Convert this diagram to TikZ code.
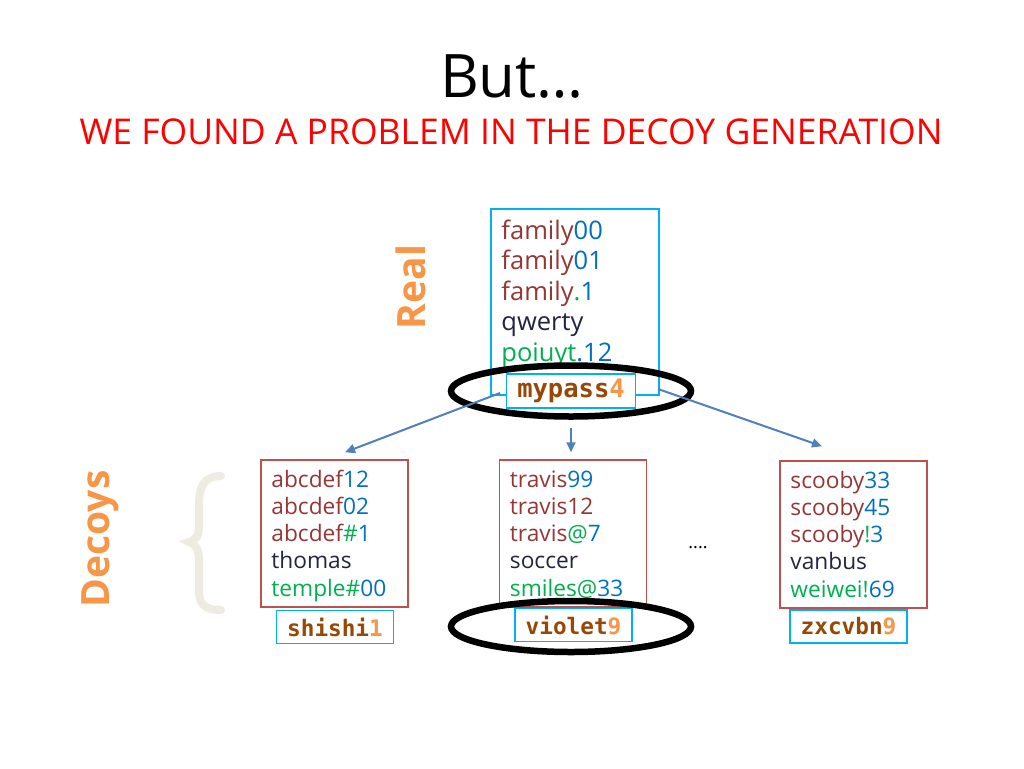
\documentclass[tikz,border=0pt]{standalone}
\usepackage{fontspec}
\setmainfont{Open Sans}
\setmonofont{DejaVu Sans Mono}
\usetikzlibrary{shapes.geometric,arrows.meta}
\definecolor{pwred}{RGB}{149,55,53}
\definecolor{pwblue}{RGB}{0,112,192}
\definecolor{pwgreen}{RGB}{0,176,80}
\definecolor{pwnavy}{RGB}{36,36,70}
\definecolor{titlered}{RGB}{255,0,0}
\definecolor{boxcyan}{RGB}{0,176,240}
\definecolor{boxred}{RGB}{192,80,77}
\definecolor{arrowblue}{RGB}{79,129,189}
\definecolor{markorange}{RGB}{247,150,70}
\definecolor{monobrown}{RGB}{151,72,7}
\definecolor{bracecol}{RGB}{238,236,225}
\newcommand{\pwR}[1]{\textcolor{pwred}{#1}}
\newcommand{\pwB}[1]{\textcolor{pwblue}{#1}}
\newcommand{\pwG}[1]{\textcolor{pwgreen}{#1}}
\newcommand{\pwN}[1]{\textcolor{pwnavy}{#1}}
\newcommand{\pwPick}[2]{\textcolor{monobrown}{#1}\textcolor{markorange}{#2}}
\begin{document}
\begin{tikzpicture}[
  x=1pt,y=-1pt,
  pwline/.style={anchor=base west,inner sep=0pt,font=\fontsize{25.5}{25.5}\selectfont},
  dcline/.style={pwline,font=\fontsize{22.7}{22.7}\selectfont},
  realbox/.style={draw=boxcyan,line width=1.5pt,minimum width=168pt,minimum height=186pt,inner sep=0pt},
  decoybox/.style={draw=boxred,line width=1.5pt,minimum width=147pt,minimum height=147pt,inner sep=0pt},
  pickbox/.style={draw=boxcyan,fill=white,line width=1.5pt,minimum width=117pt,minimum height=33pt,
    inner sep=0pt,font=\fontsize{22.7}{22.7}\ttfamily\bfseries},
  ringmark/.style={draw,ellipse,line width=6.5pt,minimum width=240pt,minimum height=51pt},
  pick/.style={-{Triangle[length=10pt,width=9pt]},draw=arrowblue,line width=2pt},
  sidelabel/.style={rotate=90,text=markorange,font=\fontsize{39}{39}\selectfont\bfseries}]
  \useasboundingbox[fill=white] (0,0) rectangle (1024,768);

  % heading
  \node[font=\fontsize{60}{60}\selectfont] (title) at (512,77) {But…};
  \node[text=titlered,font=\fontsize{35.5}{35.5}\selectfont] (subtitle) at (511,132)
    {WE FOUND A PROBLEM IN THE DECOY GENERATION};

  % the real password list
  \node[sidelabel] (reallabel) at (411,287) {Real};
  \node[realbox] (real) at (575,302) {};
  \foreach \t [count=\i from 0] in {{\pwR{family}\pwB{00}},{\pwR{family}\pwB{01}},
      {\pwR{family}\pwG{.}\pwB{1}},{\pwN{qwerty}},{\pwG{poiuyt}\pwB{.12}}}
    \node[pwline] (real-\i) at ([xshift=11pt,yshift={-(31+30.5*\i)*1pt}]real.north west) {\t};
  \node[pickbox,minimum width=129pt,minimum height=34pt,font=\fontsize{25.5}{25.5}\ttfamily\bfseries]
    (realpick) at (571,391) {\pwPick{mypass}{4}};

  % decoy lists
  \node[sidelabel] (decoylabel) at (100,539) {Decoys};
  \draw[bracecol,line width=8pt,line cap=round]
    (221,476) .. controls (203,476) and (199,488) .. (199,505)
    -- (199,525) .. controls (199,536) and (196,540) .. (189,542)
    .. controls (196,545) and (199,550) .. (199,560)
    -- (199,590) .. controls (199,603) and (203,610) .. (221,610);

  \node[decoybox] (d1) at (334.5,533.5) {};
  \foreach \t [count=\i from 0] in {{\pwR{abcdef}\pwB{12}},{\pwR{abcdef}\pwB{02}},
      {\pwR{abcdef}\pwG{\#}\pwB{1}},{\pwN{thomas}},{\pwG{temple\#}\pwB{00}}}
    \node[dcline] (d1-\i) at ([xshift=11pt,yshift={-(28+27.2*\i)*1pt}]d1.north west) {\t};
  \node[pickbox] (p1) at (335,627) {\pwPick{shishi}{1}};

  \node[decoybox] (d2) at (573,533.5) {};
  \foreach \t [count=\i from 0] in {{\pwR{travis}\pwB{99}},{\pwR{travis12}},
      {\pwR{travis}\pwG{@}\pwB{7}},{\pwN{soccer}},{\pwG{smiles@}\pwB{33}}}
    \node[dcline] (d2-\i) at ([xshift=11pt,yshift={-(28+27.2*\i)*1pt}]d2.north west) {\t};
  \node[pickbox] (p2) at (573.5,625) {\pwPick{violet}{9}};

  \node[font=\fontsize{18}{18}\selectfont] (more) at (698,548) {....};

  \node[decoybox] (d3) at (853.5,534.5) {};
  \foreach \t [count=\i from 0] in {{\pwR{scooby}\pwB{33}},{\pwR{scooby}\pwB{45}},
      {\pwR{scooby}\pwG{!}\pwB{3}},{\pwN{vanbus}},{\pwG{weiwei!}\pwB{69}}}
    \node[dcline] (d3-\i) at ([xshift=11pt,yshift={-(28+27.2*\i)*1pt}]d3.north west) {\t};
  \node[pickbox] (p3) at (848.5,626.5) {\pwPick{zxcvbn}{9}};

  % the two picks that give the game away
  \node[ringmark] (ring1) at (571,391) {};
  \node[ringmark] (ring2) at (571,626.5) {};

  % decoy generation
  \coordinate (fromleft) at (500,393);
  \coordinate (fromright) at (658,389);
  \coordinate (frommid) at (571,428);
  \draw[pick] (fromleft) -- ([xshift=10.5pt,yshift=7pt]d1.north);
  \draw[pick] (frommid) -- ([xshift=-2pt,yshift=7pt]d2.north);
  \draw[pick] (fromright) -- ([xshift=-31.5pt,yshift=14pt]d3.north);
\end{tikzpicture}
\end{document}
